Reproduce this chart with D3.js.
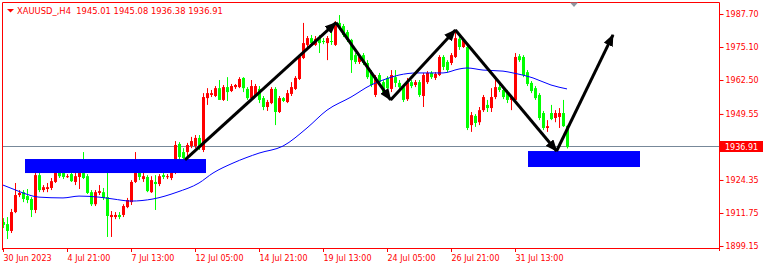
<!DOCTYPE html>
<html>
<head>
<meta charset="utf-8">
<script src="https://cdn.jsdelivr.net/npm/d3@7"></script>
<style>
  body { margin: 0; background: #fff; }
  svg { display: block; }
  text { font-family: "DejaVu Sans", Tahoma, sans-serif; font-size: 8px; fill: #ff0000; }
  .title { font-size: 8.4px; white-space: pre; }
</style>
</head>
<body>
<svg id="chart" width="764" height="267"></svg>
<script>
// XAUUSD H4 candles, [open, high, low, close], one per bar
const candleOHLC = [
  [1908.3,1909.8,1906.0,1907.2],[1907.5,1910.2,1901.8,1904.9],[1904.9,1913.3,1904.1,1912.1],[1912.1,1923.2,1911.7,1918.6],
  [1918.6,1920.5,1917.8,1919.4],[1919.7,1920.5,1915.9,1917.1],[1918.2,1920.9,1915.5,1916.7],[1917.1,1917.8,1910.2,1912.9],
  [1912.9,1927.4,1911.7,1926.2],[1926.2,1930.1,1919.7,1920.5],[1920.5,1922.4,1919.7,1921.6],[1920.9,1923.2,1919.7,1921.6],
  [1921.3,1925.1,1920.5,1923.9],[1923.6,1928.9,1923.2,1927.4],[1927.4,1928.9,1925.1,1925.8],[1927.0,1928.1,1924.7,1925.5],
  [1925.5,1926.6,1925.1,1925.8],[1926.6,1927.4,1923.6,1923.9],[1923.6,1927.0,1922.4,1925.8],[1925.5,1927.8,1920.9,1927.0],
  [1927.0,1935.0,1924.7,1925.1],[1925.8,1926.6,1919.0,1919.4],[1919.7,1920.5,1914.4,1915.1],[1915.1,1920.5,1914.4,1919.7],
  [1919.4,1922.4,1918.6,1920.1],[1919.7,1921.3,1916.7,1917.5],[1917.8,1928.1,1902.6,1910.6],[1910.2,1912.5,1902.6,1911.0],
  [1910.2,1912.1,1909.4,1911.0],[1911.0,1912.1,1909.4,1910.2],[1911.0,1915.1,1910.2,1914.4],[1914.0,1917.5,1913.6,1916.7],
  [1915.9,1924.3,1914.8,1923.6],[1923.6,1935.0,1923.2,1928.9],[1928.1,1928.9,1924.3,1925.5],[1924.7,1927.0,1923.6,1925.8],
  [1925.5,1926.2,1919.7,1920.1],[1919.7,1925.8,1919.4,1924.3],[1923.6,1926.2,1912.9,1922.8],[1922.8,1926.6,1922.0,1925.8],
  [1926.2,1927.0,1924.7,1925.5],[1925.5,1926.6,1924.7,1925.8],[1925.1,1927.8,1924.3,1927.0],[1927.4,1939.2,1926.6,1937.7],
  [1938.1,1938.8,1932.0,1933.1],[1935.0,1936.5,1932.0,1932.7],[1935.0,1938.5,1932.7,1937.7],[1937.3,1940.8,1936.5,1939.2],
  [1937.3,1941.5,1936.5,1940.4],[1940.4,1941.5,1935.8,1936.9],[1935.8,1957.5,1935.0,1956.0],[1955.6,1959.4,1953.0,1957.5],
  [1956.8,1958.7,1956.0,1957.5],[1956.4,1960.2,1956.0,1959.4],[1959.4,1962.5,1954.9,1954.9],[1954.9,1960.6,1954.5,1959.8],
  [1959.8,1963.6,1954.5,1957.9],[1958.3,1961.0,1957.9,1960.2],[1959.8,1961.0,1959.1,1960.6],[1959.8,1963.6,1959.4,1962.9],
  [1963.3,1963.6,1957.9,1959.4],[1959.1,1959.8,1954.9,1955.6],[1955.6,1962.5,1955.2,1960.2],[1956.8,1961.0,1956.0,1960.2],
  [1959.1,1960.2,1953.7,1954.9],[1955.6,1956.4,1951.0,1952.2],[1952.2,1954.9,1950.7,1954.1],[1953.7,1959.8,1953.3,1959.1],
  [1959.1,1959.8,1945.3,1950.3],[1950.3,1956.4,1949.9,1955.6],[1955.6,1956.0,1954.1,1954.5],[1954.1,1958.7,1953.7,1957.5],
  [1957.2,1961.7,1956.4,1959.8],[1959.1,1964.0,1958.7,1963.3],[1962.9,1972.0,1962.5,1971.3],[1970.9,1984.3,1970.5,1976.6],
  [1975.9,1979.3,1975.1,1978.5],[1978.5,1979.7,1975.5,1976.6],[1975.9,1979.3,1975.5,1978.2],[1978.5,1979.7,1972.8,1976.6],
  [1977.4,1978.5,1976.2,1977.0],[1976.6,1979.3,1970.1,1978.5],[1977.4,1981.6,1975.9,1977.0],[1975.9,1985.0,1975.5,1984.3],
  [1984.3,1987.3,1981.6,1982.4],[1983.1,1983.9,1978.9,1979.7],[1980.8,1981.6,1977.0,1977.8],[1977.8,1978.2,1965.2,1970.1],
  [1972.0,1972.8,1968.6,1969.4],[1969.4,1972.0,1968.6,1971.3],[1972.0,1972.8,1968.2,1969.0],[1969.0,1970.1,1962.9,1963.6],
  [1965.5,1966.3,1959.8,1960.6],[1956.8,1964.4,1956.0,1963.6],[1964.4,1965.2,1961.0,1961.7],[1961.7,1962.5,1957.2,1957.9],
  [1963.3,1964.0,1958.7,1959.4],[1959.1,1966.3,1957.9,1964.4],[1963.6,1966.3,1959.8,1961.4],[1961.4,1962.5,1958.7,1959.8],
  [1959.8,1960.6,1954.1,1954.9],[1955.2,1963.3,1954.5,1961.4],[1961.7,1962.5,1959.4,1960.2],[1960.6,1962.5,1959.8,1961.7],
  [1961.7,1962.5,1956.0,1956.8],[1956.4,1965.2,1952.2,1964.4],[1961.7,1965.9,1961.0,1965.2],[1965.2,1965.9,1962.9,1963.6],
  [1963.3,1965.5,1962.5,1964.8],[1964.4,1972.0,1964.0,1971.3],[1971.3,1972.0,1966.3,1967.5],[1969.4,1970.1,1965.5,1966.3],
  [1969.0,1972.8,1968.2,1972.0],[1971.3,1981.6,1970.9,1978.5],[1978.2,1978.9,1974.0,1975.1],[1975.1,1978.5,1974.7,1977.8],
  [1975.1,1975.9,1943.4,1944.2],[1945.3,1950.3,1942.7,1949.1],[1948.8,1949.5,1944.6,1946.1],[1946.4,1952.2,1945.3,1951.0],
  [1951.0,1956.8,1950.3,1956.0],[1953.0,1954.9,1950.3,1951.8],[1951.8,1959.4,1950.3,1956.0],[1956.0,1962.5,1955.2,1959.8],
  [1959.8,1961.0,1957.9,1958.7],[1958.7,1959.4,1955.2,1956.0],[1957.5,1958.7,1953.7,1954.9],[1954.9,1956.8,1951.0,1956.0],
  [1954.9,1972.8,1954.5,1971.3],[1971.6,1972.4,1969.4,1970.1],[1971.3,1972.0,1963.6,1964.4],[1965.5,1966.3,1960.2,1961.0],
  [1961.4,1962.1,1957.5,1958.3],[1959.4,1960.2,1954.9,1955.6],[1956.8,1957.5,1947.2,1948.0],[1949.9,1950.7,1943.4,1944.2],
  [1944.2,1947.2,1942.7,1944.9],[1949.9,1953.0,1947.2,1947.6],[1948.0,1951.0,1946.4,1949.9],[1948.4,1951.8,1944.2,1949.9],
  [1949.9,1954.9,1944.6,1944.9],[1945.01,1945.08,1936.38,1936.91]
];

// moving average: [bar, price]
const maPoints = [
  [0,1922.4],[2.5,1920.9],[5,1919.4],[9,1917.8],[15,1917.5],[19,1918.2],[24,1917.8],[27.5,1917.1],
  [32,1916.3],[37.5,1917.1],[43.5,1919.7],[49,1923.2],[52.5,1927.0],[57.5,1930.8],[64,1934.6],[70,1937.3],
  [76,1944.2],[81,1951.0],[87,1956.0],[92,1960.6],[95,1962.5],[99,1964.4],[103.5,1965.2],[110,1965.2],
  [114,1966.7],[116,1967.1],[120,1966.3],[125,1965.9],[127.5,1965.2],[132.5,1963.3],[137,1960.6],[141,1959.1]
];

// drawn objects
const zones = [
  { from: 5.5, to: 50.75, top: 1932.35, bottom: 1927.0 },
  { from: 131.25, to: 159.25, top: 1935.4, bottom: 1929.3 }
];
const arrowPath = [[45.5,1932.0],[83.25,1984.4],[96.9,1954.9],[113.1,1981.6],[138.4,1935.4],[152.5,1979.7]];

const yTickValues = [1987.70, 1975.10, 1962.50, 1949.55, 1924.35, 1911.75, 1899.15];
const xTickBars = [0, 16, 32, 48, 64, 80, 96, 112, 128];
const xTickLabels = ["30 Jun 2023", "4 Jul 21:00", "7 Jul 13:00", "12 Jul 05:00", "14 Jul 21:00",
  "19 Jul 13:00", "24 Jul 05:00", "26 Jul 21:00", "31 Jul 13:00"];
const titleText = "XAUUSD_,H4  1945.01 1945.08 1936.38 1936.91";
const lastPrice = 1936.91;

document.addEventListener("DOMContentLoaded", function () {
  const svg = d3.select("#chart");
  const left = 2, top = 2, right = 719, bottom = 248;

  const xScale = d3.scaleLinear().domain([0, 179]).range([3, 719]);
  const yScale = d3.scaleLinear().domain([1899.15, 1987.70]).range([246, 14]);

  svg.append("defs").append("marker")
    .attr("id", "head")
    .attr("markerUnits", "userSpaceOnUse")
    .attr("viewBox", "0 0 12 10")
    .attr("markerWidth", 12)
    .attr("markerHeight", 10)
    .attr("refX", 11)
    .attr("refY", 5)
    .attr("orient", "auto")
    .append("path")
    .attr("d", "M0,0 L12,5 L0,10 Z")
    .attr("fill", "#000");

  // current price line
  svg.append("line")
    .attr("x1", left).attr("x2", right)
    .attr("y1", Math.round(yScale(lastPrice)) - 0.5)
    .attr("y2", Math.round(yScale(lastPrice)) - 0.5)
    .attr("stroke", "#778899");

  // candles
  const candles = svg.append("g");
  candleOHLC.forEach((d, i) => {
    const [o, h, l, c] = d;
    const cx = Math.round(xScale(i));
    const color = c >= o ? "#ff0000" : "#00ff00";
    candles.append("line")
      .attr("x1", cx + 0.5).attr("x2", cx + 0.5)
      .attr("y1", yScale(h)).attr("y2", yScale(l))
      .attr("stroke", color);
    const yTop = yScale(Math.max(o, c));
    const yBot = yScale(Math.min(o, c));
    candles.append("rect")
      .attr("x", cx - 1)
      .attr("y", yTop)
      .attr("width", 3)
      .attr("height", Math.max(1, yBot - yTop))
      .attr("fill", color);
  });

  // moving average
  const maLine = d3.line()
    .x((d) => xScale(d[0]))
    .y((d) => yScale(d[1]))
    .curve(d3.curveMonotoneX);
  svg.append("path")
    .datum(maPoints)
    .attr("d", maLine)
    .attr("fill", "none")
    .attr("stroke", "#0000ff")
    .attr("stroke-width", 1);

  // zones
  svg.selectAll(".zone")
    .data(zones)
    .join("rect")
    .attr("class", "zone")
    .attr("x", (d) => xScale(d.from))
    .attr("y", (d) => yScale(d.top))
    .attr("width", (d) => xScale(d.to) - xScale(d.from))
    .attr("height", (d) => yScale(d.bottom) - yScale(d.top))
    .attr("fill", "#0000ff");

  // arrows, one per leg
  for (let k = 1; k < arrowPath.length; k++) {
    svg.append("line")
      .attr("x1", xScale(arrowPath[k - 1][0]))
      .attr("y1", yScale(arrowPath[k - 1][1]))
      .attr("x2", xScale(arrowPath[k][0]))
      .attr("y2", yScale(arrowPath[k][1]))
      .attr("stroke", "#000")
      .attr("stroke-width", 3)
      .attr("marker-end", "url(#head)");
  }

  // frame
  svg.append("path")
    .attr("d", `M${left + 0.5},${bottom + 2} V${top + 0.5} H${right + 0.5} V${bottom + 3}`)
    .attr("fill", "none")
    .attr("stroke", "#ff0000");
  svg.append("line")
    .attr("x1", left).attr("x2", right + 1)
    .attr("y1", bottom + 0.5).attr("y2", bottom + 0.5)
    .attr("stroke", "#ff0000");

  // axes
  const yAxis = d3.axisRight(yScale)
    .tickValues(yTickValues)
    .tickSize(4)
    .tickPadding(2)
    .tickFormat((d) => d.toFixed(2));
  const yAxisGroup = svg.append("g")
    .attr("transform", `translate(${right + 0.5},0)`)
    .call(yAxis);
  yAxisGroup.select(".domain").remove();
  yAxisGroup.selectAll("line").attr("stroke", "#ff0000");
  yAxisGroup.selectAll("text")
    .attr("font-family", null).attr("font-size", null)
    .attr("fill", "#ff0000");

  const xAxis = d3.axisBottom(xScale)
    .tickValues(xTickBars)
    .tickSize(4)
    .tickFormat((d, i) => xTickLabels[i]);
  const xAxisGroup = svg.append("g")
    .attr("transform", `translate(0,${bottom})`)
    .call(xAxis);
  xAxisGroup.select(".domain").remove();
  xAxisGroup.selectAll("line").attr("stroke", "#ff0000");
  xAxisGroup.selectAll("text")
    .attr("font-family", null).attr("font-size", null)
    .attr("text-anchor", "start")
    .attr("x", 0)
    .attr("dy", null)
    .attr("y", 13)
    .attr("fill", "#ff0000");

  // last price tag
  const yLast = Math.round(yScale(lastPrice));
  svg.append("rect")
    .attr("x", right + 1).attr("y", yLast - 6)
    .attr("width", 43).attr("height", 11)
    .attr("fill", "#ff0000");
  svg.append("text")
    .attr("x", right + 6).attr("y", yLast + 2.5)
    .style("fill", "#fff")
    .text(lastPrice.toFixed(2));

  // title
  svg.append("path").attr("d", "M7,9 L14,9 L10.5,12.5 Z").attr("fill", "#ff0000");
  svg.append("text").attr("class", "title").attr("x", 17).attr("y", 13.5).text(titleText);

  // chart shift marker
  svg.append("path").attr("d", "M570,2.5 L578,2.5 L574,7 Z").attr("fill", "#8c96a0");
});
</script>
</body>
</html>
